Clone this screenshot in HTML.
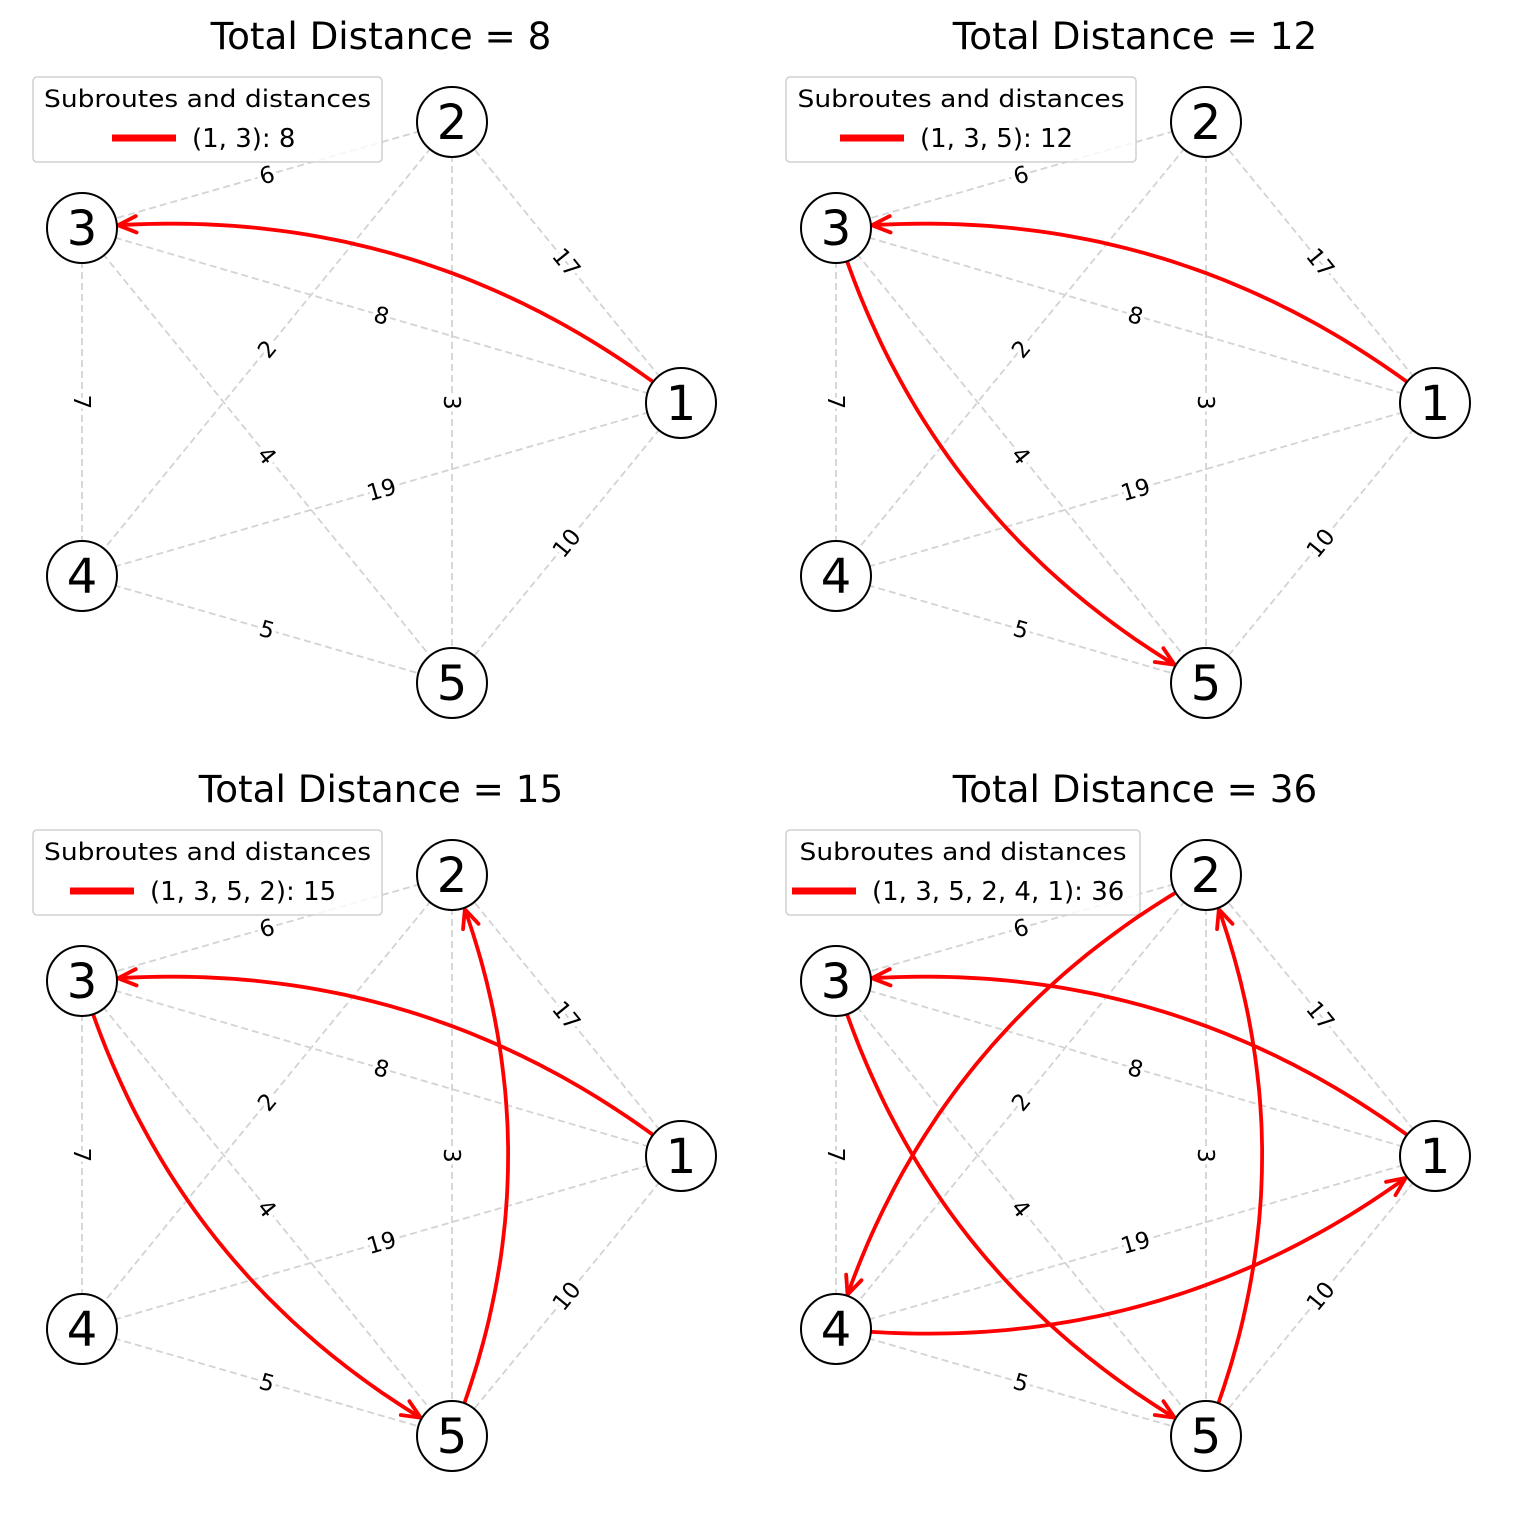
<!DOCTYPE html>
<html><head><meta charset="utf-8">
<style>
html,body{margin:0;padding:0;background:#fff;}
svg{display:block;font-family:"DejaVu Sans","Liberation Sans",sans-serif;}
</style></head>
<body>
<svg id="s" width="1516" height="1515" viewBox="0 0 1516 1515" xmlns="http://www.w3.org/2000/svg"></svg>
<script>
const S=document.getElementById('s');
const NS='http://www.w3.org/2000/svg';
function el(t,a,txt){const e=document.createElementNS(NS,t);for(const k in a)e.setAttribute(k,a[k]);if(txt!==undefined)e.textContent=txt;S.appendChild(e);return e;}
const base={1:[681,403],2:[452,122],3:[82,228],4:[82,576],5:[452,683]};
const edges=[[1,2,17],[1,3,8],[1,4,19],[1,5,10],[2,3,6],[2,4,2],[2,5,3],[3,4,7],[3,5,4],[4,5,5]];
const panels=[
 {ox:0,oy:0,title:"Total Distance = 8",route:[1,3],lab:"(1, 3): 8",lx:33,lw:349,sx:112},
 {ox:754,oy:0,title:"Total Distance = 12",route:[1,3,5],lab:"(1, 3, 5): 12",lx:786,lw:350,sx:840},
 {ox:0,oy:753,title:"Total Distance = 15",route:[1,3,5,2],lab:"(1, 3, 5, 2): 15",lx:33,lw:349,sx:70},
 {ox:754,oy:753,title:"Total Distance = 36",route:[1,3,5,2,4,1],lab:"(1, 3, 5, 2, 4, 1): 36",lx:786,lw:354,sx:792}
];
const R=35;
function bz(p0,c,p2,t){const u=1-t;return [u*u*p0[0]+2*u*t*c[0]+t*t*p2[0],u*u*p0[1]+2*u*t*c[1]+t*t*p2[1]];}
panels.forEach(P=>{
 const pos={};for(const k in base)pos[k]=[base[k][0]+P.ox,base[k][1]+P.oy];
 el('text',{x:381+P.ox,y:49+P.oy,style:'font-size:37.3px','text-anchor':'middle'},P.title);
 edges.forEach(([a,b,w])=>{
  const A=pos[a],B=pos[b];
  el('line',{x1:A[0],y1:A[1],x2:B[0],y2:B[1],stroke:'#d3d3d3','stroke-width':1.8,'stroke-dasharray':'7,4'});
 });
 edges.forEach(([a,b,w])=>{
  const A=pos[a],B=pos[b];const mx=(A[0]+B[0])/2,my=(A[1]+B[1])/2;
  let ang=Math.atan2(B[1]-A[1],B[0]-A[0])*180/Math.PI;
  if(ang>90)ang-=180;if(ang<=-90)ang+=180;
  el('text',{x:mx,y:my+8,style:'font-size:23px','text-anchor':'middle',transform:`rotate(${ang} ${mx} ${my})`,stroke:'#fff','stroke-width':8,'paint-order':'stroke','stroke-linejoin':'round'},String(w));
 });
 el('rect',{x:P.lx,y:77+P.oy,width:P.lw,height:85,rx:4,fill:'#fff','fill-opacity':0.8,stroke:'#d0d0d0','stroke-width':1.5});
 const cx=P.lx+P.lw/2;
 el('text',{x:cx,y:107+P.oy,style:'font-size:24px','text-anchor':'middle',textLength:327,lengthAdjust:'spacingAndGlyphs'},'Subroutes and distances');
 el('line',{x1:P.sx,y1:138+P.oy,x2:P.sx+64,y2:138+P.oy,stroke:'red','stroke-width':7});
 el('text',{x:P.sx+80,y:147+P.oy,style:'font-size:26px'},P.lab);
 for(let i=0;i<P.route.length-1;i++){
  const A=pos[P.route[i]],B=pos[P.route[i+1]];
  const dx=B[0]-A[0],dy=B[1]-A[1];
  const C=[(A[0]+B[0])/2-0.2*dy,(A[1]+B[1])/2+0.2*dx];
  let t0=0,t1=1;
  while(Math.hypot(bz(A,C,B,t0)[0]-A[0],bz(A,C,B,t0)[1]-A[1])<R)t0+=0.001;
  while(Math.hypot(bz(A,C,B,t1)[0]-B[0],bz(A,C,B,t1)[1]-B[1])<R+1)t1-=0.001;
  let d='';const N=60;
  for(let k=0;k<=N;k++){const p=bz(A,C,B,t0+(t1-t0)*k/N);d+=(k?'L':'M')+p[0].toFixed(1)+' '+p[1].toFixed(1);}
  el('path',{d:d,fill:'none',stroke:'red','stroke-width':3.8});
  const E=bz(A,C,B,t1),Q=bz(A,C,B,t1-0.02);
  const th=Math.atan2(E[1]-Q[1],E[0]-Q[0]);const L=20,h=0.42;
  const p1=[E[0]-L*Math.cos(th-h),E[1]-L*Math.sin(th-h)],p2=[E[0]-L*Math.cos(th+h),E[1]-L*Math.sin(th+h)];
  el('path',{d:`M${p1[0]} ${p1[1]}L${E[0]} ${E[1]}L${p2[0]} ${p2[1]}`,fill:'none',stroke:'red','stroke-width':3.8,'stroke-linecap':'round'});
 }
 for(const k in pos){
  el('circle',{cx:pos[k][0],cy:pos[k][1],r:R,fill:'#fff',stroke:'#000','stroke-width':2});
  el('text',{x:pos[k][0],y:pos[k][1]+17,style:'font-size:48px','text-anchor':'middle'},k);
 }
});
</script>
</body></html>
